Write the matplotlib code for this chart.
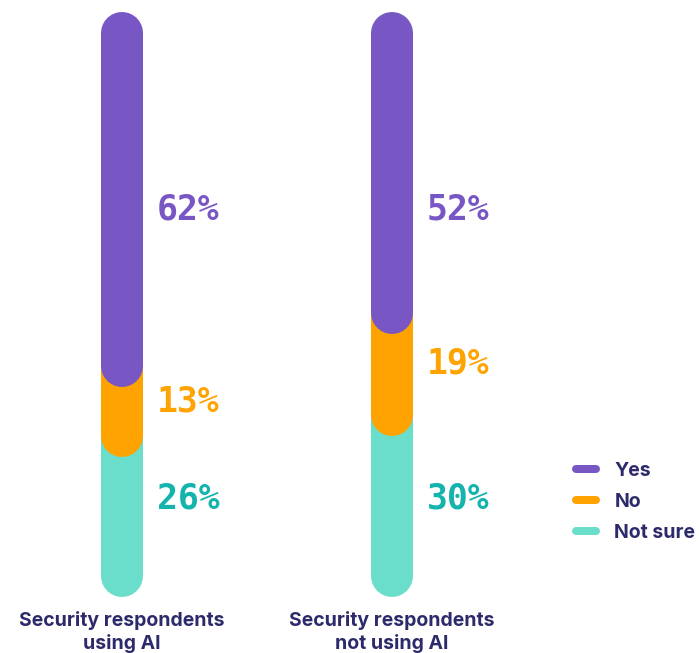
import matplotlib.pyplot as plt
from matplotlib.lines import Line2D

groups = ['Security respondents\nusing AI', 'Security respondents\nnot using AI']
answers = ['Yes', 'No', 'Not sure']
yes = [62, 52]
no = [13, 19]
not_sure = [26, 30]

bar_colors = ['#7856c4', '#ffa300', '#6bddcb']
text_colors = ['#7856c4', '#ffa300', '#14b3ad']
navy = '#2d2a6b'

fig = plt.figure(figsize=(6.99, 6.53), dpi=100)
ax = fig.add_axes([0, 0, 1, 1])
ax.set_xlim(-0.452, 2.137)
ax.set_ylim(115.3, -6.14)
ax.axis('off')

bar_lw = 42 * 72 / 100
series = [yes, no, not_sure]
# top and bottom labels sit on a common line, middle one follows its segment
top_label_y, bottom_label_y = 32.9, 86.5
for i, name in enumerate(groups):
    vals = [s[i] for s in series]
    starts = [sum(vals[:k]) for k in range(len(vals))]
    # draw bottom segment first so the upper rounded ends sit on top
    for k in reversed(range(len(vals))):
        ax.plot([i, i], [starts[k], starts[k] + vals[k]], color=bar_colors[k],
                lw=bar_lw, solid_capstyle='round')
    label_y = [top_label_y, starts[1] + vals[1] / 2, bottom_label_y]
    for k in range(len(vals)):
        ax.text(i + 0.13, label_y[k], f'{vals[k]}%',
                color=text_colors[k], fontsize=25, fontweight='bold',
                family='DejaVu Sans Mono', ha='left', va='center')
    ax.text(i, 111.4, name, color=navy, fontsize=14, fontweight='bold',
            family='Inter', ha='center', va='center', linespacing=1.23)

handles = [Line2D([0], [0], color=c, lw=8 * 72 / 100, solid_capstyle='round')
           for c in bar_colors]
leg = ax.legend(handles, answers, loc='center left', bbox_to_anchor=(0.810, 0.231),
                bbox_transform=fig.transFigure, frameon=False, borderpad=0,
                handlelength=1.03, handletextpad=0.95, labelspacing=0.675,
                prop={'family': 'Inter', 'weight': 'bold', 'size': 14})
for t in leg.get_texts():
    t.set_color(navy)

fig.savefig('out.png', dpi=100)
